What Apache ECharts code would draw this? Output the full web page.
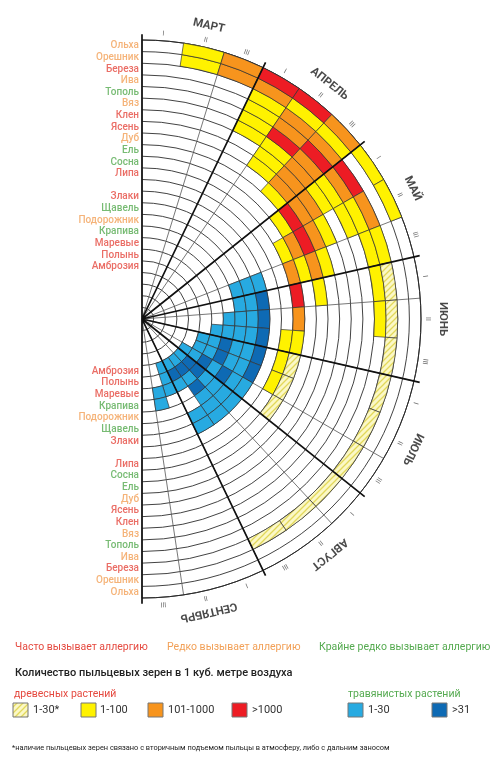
<!DOCTYPE html>
<html><head><meta charset="utf-8">
<script src="https://cdn.jsdelivr.net/npm/echarts@6/dist/echarts.min.js"></script>
<style>html,body{margin:0;padding:0;background:#fff}#c{width:500px;height:760px}</style>
</head><body><div id="c"></div>
<script>
// ---------- data ----------
const months = ['МАРТ','АПРЕЛЬ','МАЙ','ИЮНЬ','ИЮЛЬ','АВГУСТ','СЕНТЯБРЬ'];
const decadeNames = ['I','II','III'];
// plants from the outer ring inwards ('' = empty separator ring)
const plants = ['Ольха','Орешник','Береза','Ива','Тополь','Вяз','Клен','Ясень','Дуб','Ель','Сосна','Липа','',
  'Злаки','Щавель','Подорожник','Крапива','Маревые','Полынь','Амброзия'];
// allergy frequency of each plant (label colour)
const allergy = ['mid','mid','high','mid','low','mid','high','high','mid','low','low','high','',
  'high','low','mid','low','high','high','high'];
// pollen level per decade (21 decades, March I .. September III)
// . none, y 1-100, o 101-1000, r >1000, h 1-30*, b herbs 1-30, B herbs >31
const levels = [
  '.yorroyy.............',
  '.yooyy...............',
  '...yooroyhhhhhhhhh...',
  '...yoroyyyy..........',
  '...yroyy.............',
  '...yyoy..............',
  '....yooy.............',
  '....yoooy............',
  '.....yrroy...........',
  '......yoy............',
  '.......yoroyhhh......',
  '...........yyy.......',
  '.....................',
  '........bBBBBBbbbb...',
  '........bbbbbbbbbb...',
  '........bbbbbbBbb....',
  '..........bbBBbbB..b.',
  '...........bbbBBbbbb.',
  '............bbbBBBb..',
  '..............bbbbb..'
];
const innerEmptyRings = 4;
const legendTrees = ['1-30*','1-100','101-1000','>1000'];
const legendHerbs = ['1-30','>31'];

// ---------- styles ----------
function makeHatch(){
  const c=document.createElement('canvas'); c.width=6; c.height=6;
  const g=c.getContext('2d');
  g.fillStyle='#fbf8c6'; g.fillRect(0,0,6,6);
  g.strokeStyle='#e2d85a'; g.lineWidth=1.3;
  g.beginPath(); g.moveTo(0,6); g.lineTo(6,0); g.moveTo(-1,1); g.lineTo(1,-1); g.moveTo(5,7); g.lineTo(7,5); g.stroke();
  return c;
}
const hatch = {image: makeHatch(), repeat: 'repeat'};
const palette = {y:'#fff200', o:'#f7941d', r:'#ed1c24', h:hatch, b:'#27aae1', B:'#0e6ab4'};
const labelColor = {high:'#e5493f', mid:'#f2a057', low:'#55aa50'};
const FONT = 'Roboto, "Noto Sans", sans-serif';

const decades = months.flatMap(m => decadeNames.map(n => m + ' ' + n));
const nRings = innerEmptyRings + plants.length;
const rings = [];
for (let k = 0; k < innerEmptyRings; k++) rings.push(null);
for (let i = plants.length - 1; i >= 0; i--) rings.push({name: plants[i], lv: levels[i], al: allergy[i]});

const barSeries = rings.map((ring, k) => ({
  type: 'bar', coordinateSystem: 'polar', polarIndex: 0, stack: 'rings', silent: true,
  barCategoryGap: '0%', animation: false,
  data: decades.map((_, d) => {
    const code = ring ? ring.lv[d] : '.';
    if (code === '.') return {value: 1, itemStyle: {color: 'rgba(0,0,0,0)', borderWidth: 0}};
    return {value: 1, itemStyle: {color: palette[code], borderColor: '#333', borderWidth: 0.7}};
  })
}));

// text layer (polar 2 uses the same ring unit, extended outwards)
const textMax = nRings + 3;
const plantLabelData = [];
rings.forEach((ring, k) => {
  if (!ring || !ring.name) return;
  [0, months.length].forEach(a => plantLabelData.push({
    value: [k + 0.5, a], name: ring.name, label: {color: labelColor[ring.al]}
  }));
});
const monthData = months.map((m, i) => ({
  value: [nRings + 1.85, i + 0.5], name: m, label: {rotate: -(i + 0.5) * 180 / months.length}
}));
const romanData = decades.map((id, d) => ({
  value: [nRings + 0.6, (d + 0.5) / 3], name: decadeNames[d % 3], label: {rotate: -(d + 0.5) * 180 / decades.length}
}));

const scatterBase = {type: 'scatter', coordinateSystem: 'polar', polarIndex: 2, symbolSize: 0, silent: true, animation: false, z: 6};

const chart = echarts.init(document.getElementById('c'), null, {renderer: 'canvas'});
const CX = 142, CY = 319, R = 279;
const legendY = 710;
const boxColors = [hatch, palette.y, palette.o, palette.r];
const boxX = [13, 81, 148, 232];
const txtX = [33, 100, 168, 252];
const herbBoxX = [348, 432], herbTxtX = [368, 452];

const graphic = [
  {type:'text', x:15, y:647, style:{text:'Часто вызывает аллергию', fill:labelColor.high, fontSize:10.5, fontFamily:FONT, verticalAlign:'middle'}},
  {type:'text', x:167, y:647, style:{text:'Редко вызывает аллергию', fill:labelColor.mid, fontSize:10.5, fontFamily:FONT, verticalAlign:'middle'}},
  {type:'text', x:319, y:647, style:{text:'Крайне редко вызывает аллергию', fill:labelColor.low, fontSize:10.5, fontFamily:FONT, verticalAlign:'middle'}},
  {type:'text', x:15, y:673, style:{text:'Количество пыльцевых зерен в 1 куб. метре воздуха', fill:'#222', fontSize:11, fontWeight:500, fontFamily:FONT, verticalAlign:'middle'}},
  {type:'text', x:14, y:694, style:{text:'древесных растений', fill:labelColor.high, fontSize:10.5, fontFamily:FONT, verticalAlign:'middle'}},
  {type:'text', x:348, y:694, style:{text:'травянистых растений', fill:labelColor.low, fontSize:10.5, fontFamily:FONT, verticalAlign:'middle'}},
  {type:'text', x:12, y:748, style:{text:'*наличие пыльцевых зерен связано с вторичным подъемом пыльцы в атмосферу, либо с дальним заносом', fill:'#222', fontSize:7.4, fontFamily:FONT, verticalAlign:'middle'}}
];
legendTrees.forEach((t, i) => {
  graphic.push({type:'rect', shape:{x:boxX[i], y:legendY-7, width:15, height:14}, style:{fill:boxColors[i], stroke:'#777', lineWidth:1}});
  graphic.push({type:'text', x:txtX[i], y:legendY, style:{text:t, fill:'#333', fontSize:11, fontFamily:FONT, verticalAlign:'middle'}});
});
legendHerbs.forEach((t, i) => {
  graphic.push({type:'rect', shape:{x:herbBoxX[i], y:legendY-7, width:15, height:14}, style:{fill:[palette.b, palette.B][i], stroke:'#777', lineWidth:1}});
  graphic.push({type:'text', x:herbTxtX[i], y:legendY, style:{text:t, fill:'#333', fontSize:11, fontFamily:FONT, verticalAlign:'middle'}});
});

const hiddenAxis = {axisLine: {show: false}, axisTick: {show: false}, axisLabel: {show: false}, splitLine: {show: false}};

chart.setOption({
  animation: false,
  backgroundColor: '#fff',
  polar: [
    {center: [CX, CY], radius: [0, R]},
    {center: [CX, CY], radius: [0, R * (nRings + 0.5) / nRings]},
    {center: [CX, CY], radius: [0, R * textMax / nRings]}
  ],
  angleAxis: [
    {polarIndex: 0, type: 'category', data: decades, startAngle: 90, endAngle: -90, clockwise: true,
     axisLine: {show: true, lineStyle: {color: '#2a2a2a', width: 1}}, axisTick: {show: false}, axisLabel: {show: false},
     splitLine: {show: true, lineStyle: {color: '#555', width: 0.8}}},
    {polarIndex: 1, type: 'value', min: 0, max: months.length, interval: 1, startAngle: 90, endAngle: -90, clockwise: true, z: 5,
     axisLine: {show: false}, axisTick: {show: false}, axisLabel: {show: false},
     splitLine: {show: true, lineStyle: {color: '#111', width: 1.7}}},
    Object.assign({polarIndex: 2, type: 'value', min: 0, max: months.length, startAngle: 90, endAngle: -90, clockwise: true}, hiddenAxis)
  ],
  radiusAxis: [
    {polarIndex: 0, type: 'value', min: 0, max: nRings, interval: 1,
     axisLine: {show: false}, axisTick: {show: false}, axisLabel: {show: false},
     splitLine: {show: true, lineStyle: {color: '#2e2e2e', width: 0.9}}},
    Object.assign({polarIndex: 1, type: 'value', min: 0, max: nRings + 0.5}, hiddenAxis),
    Object.assign({polarIndex: 2, type: 'value', min: 0, max: textMax}, hiddenAxis)
  ],
  series: [
    ...barSeries,
    Object.assign({}, scatterBase, {data: plantLabelData,
      label: {show: true, position: 'left', distance: 3, formatter: p => p.name, fontSize: 10, fontWeight: 500, fontFamily: FONT}}),
    Object.assign({}, scatterBase, {data: monthData,
      label: {show: true, position: 'inside', formatter: p => p.name, fontSize: 11.5, fontWeight: 'bold', color: '#1a1a1a', fontFamily: FONT}}),
    Object.assign({}, scatterBase, {data: romanData,
      label: {show: true, position: 'inside', formatter: p => p.name, fontSize: 7, color: '#444', fontFamily: FONT}})
  ],
  graphic: graphic
});
</script></body></html>
